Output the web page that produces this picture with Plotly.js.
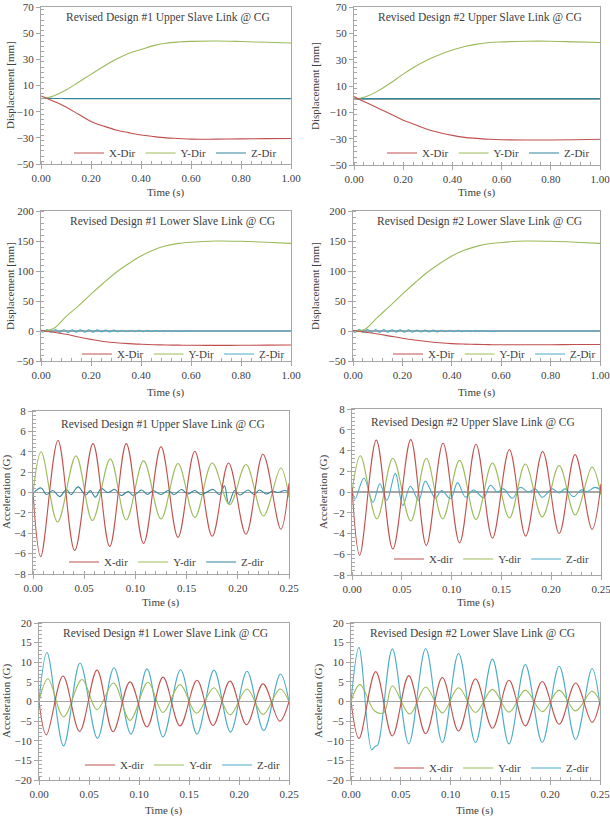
<!DOCTYPE html>
<html><head><meta charset="utf-8">
<script src="https://cdn.plot.ly/plotly-3.0.1.min.js"></script>
<style>html,body{margin:0;padding:0;background:#fff}</style>
</head><body><div id="chart" style="width:610px;height:816px"></div>
<script>
// ---------- DATA ----------
const tDisp = [0,0.02,0.05,0.1,0.15,0.2,0.25,0.3,0.35,0.4,0.45,0.5,0.55,0.6,0.7,0.8,0.9,1.0];
// Panel 1: Revised Design #1 Upper Slave Link (displacement, mm)
const X1 = [2,0.5,-2,-6.5,-12,-17.5,-21,-24,-26,-27.8,-29,-30,-30.5,-31,-31,-30.8,-30.6,-30.5];
const Y1 = [0,0.5,2,6.5,12.5,18.5,24.5,30,34.5,37.5,40.5,42.3,43.2,43.7,44,43.6,43,42.5];
const Z1 = [0,0.2,0.1,0,0,0,0,0,0,0,0,0,0,0,0,0,0,0];
// Panel 2: Revised Design #2 Upper Slave Link (displacement, mm)
const X2 = [2,0,-2.5,-7,-11.5,-16,-19.5,-23,-25.5,-27.5,-29,-29.8,-30.5,-30.8,-31,-31,-30.8,-30.5];
const Y2 = [0,0.5,2,6.5,12.5,19,25,30,34,37.3,40,41.8,43,43.5,44,44,43.5,43];
const Z2 = [0,0.4,0.4,0.4,0.4,0.4,0.4,0.4,0.4,0.4,0.4,0.4,0.4,0.4,0.4,0.4,0.4,0.4];
// Panel 3: Revised Design #1 Lower Slave Link (displacement, mm)
const X3 = [1,-0.5,-2,-5.5,-10,-14,-17.5,-19.5,-21,-22,-22.8,-23.3,-23.6,-23.8,-24,-23.8,-23.5,-23.3];
const Y3 = [0,0.5,4,24,42,61.5,80,97.5,112,125,135,142,146,148,150,149.5,148,146];
const tZlow = [0,0.008,0.025,0.041,0.058,0.075,0.091,0.108,0.125,0.141,0.158,0.175,0.191,0.208,0.225,0.241,0.258,0.275,0.291,0.308,0.325,0.341,0.358,0.375,0.391,0.408,0.425,0.441,0.458,0.475,0.491,0.508,0.525,0.541,0.6,0.7,0.8,0.9,1.0];
const Z3 = [0,-2,2.5,-2,2.5,-2.5,2,-2.5,2,-2,2,-2,1.8,-1.8,1.8,-1.5,1.5,-1.5,1.5,-1.2,1.2,-1.2,1.2,-1,1,-1,1,-0.8,0.8,-0.8,0.6,-0.6,0.5,-0.4,0,0,0,0,0];
// Panel 4: Revised Design #2 Lower Slave Link (displacement, mm)
const X4 = [1,-0.5,-2,-5,-8.5,-12,-15,-17.5,-19.5,-21,-21.8,-22.3,-22.7,-23,-23,-22.8,-22.6,-22.5];
const Y4 = [0,0.5,3.5,23,42,61.5,80,97.5,112,125,134.5,141,145.5,147.5,150,149.5,148,146];
const Z4 = [0,-2.5,3,-2.5,3,-2.5,2.5,-2.5,2.5,-2.2,2.2,-2,2,-2,1.8,-1.8,1.6,-1.6,1.5,-1.5,1.4,-1.4,1.3,-1.2,1.2,-1.1,1,-1,0.9,-0.9,0.8,-0.7,0.6,-0.5,0,0,0,0,0];
// Panel 5: Revised Design #1 Upper Slave Link (acceleration, G)
const tX5 = [0,0.0075,0.0244,0.0407,0.0586,0.0749,0.0911,0.108,0.125,0.1416,0.158,0.175,0.191,0.208,0.2246,0.242,0.25];
const X5 = [0,-6.3,5.1,-5.7,4.8,-5.3,4.8,-5.0,4.5,-4.4,4.05,-4.3,2.9,-4.1,3.75,-3.6,0.9];
const tY5 = [0,0.008,0.024,0.042,0.058,0.0755,0.091,0.108,0.125,0.1416,0.158,0.175,0.192,0.208,0.225,0.242,0.25];
const Y5 = [0,4.0,-2.9,3.6,-2.75,3.3,-2.7,3.1,-2.6,2.85,-2.45,2.9,-1.2,2.75,-2.3,2.4,-0.5];
const tZ5 = [0,0.008,0.013,0.0195,0.026,0.0326,0.037,0.044,0.0514,0.056,0.061,0.0667,0.073,0.08,0.086,0.093,0.098,0.106,0.112,0.117,0.125,0.132,0.138,0.145,0.151,0.158,0.164,0.176,0.182,0.187,0.191,0.197,0.202,0.21,0.216,0.221,0.228,0.234,0.239,0.246,0.25];
const Z5 = [-0.1,0.45,-0.2,0.2,-0.4,0.3,-0.2,0.55,-0.25,0.18,-0.45,0.4,0,0.3,-0.3,0.1,-0.3,0.25,-0.2,0.2,-0.2,0.2,-0.2,0.3,-0.15,0.2,-0.2,0.3,-0.2,0.65,-1.1,0.2,-0.25,0.25,-0.2,0.25,-0.15,0.15,0,0.2,0];
// Panel 6: Revised Design #2 Upper Slave Link (acceleration, G)
const tX6 = [0,0.0077,0.0244,0.041,0.059,0.0746,0.0914,0.108,0.1245,0.141,0.158,0.1744,0.1914,0.208,0.224,0.241,0.25];
const X6 = [0.4,-6.1,5.0,-5.5,5.05,-5.15,4.7,-4.9,4.6,-4.45,4.1,-4.25,3.9,-4.0,3.6,-3.6,0.8];
const tY6 = [0,0.0084,0.025,0.041,0.059,0.0746,0.091,0.108,0.1245,0.141,0.158,0.174,0.191,0.208,0.224,0.241,0.25];
const Y6 = [0,3.5,-2.6,3.25,-2.8,3.25,-2.6,3.05,-2.65,2.8,-2.5,2.7,-2.4,2.55,-2.2,2.4,-0.3];
const tZ6 = [0,0.003,0.012,0.021,0.028,0.035,0.0435,0.051,0.0586,0.067,0.0736,0.0837,0.09,0.099,0.106,0.114,0.122,0.132,0.139,0.146,0.152,0.161,0.169,0.177,0.184,0.191,0.201,0.208,0.214,0.2225,0.23,0.236,0.244,0.25];
const Z6 = [0.3,-0.7,1.35,-1.0,0.8,-0.8,1.8,-1.3,0.55,-0.8,1.05,-0.6,0.15,-0.65,0.9,-0.5,0.2,-0.55,0.65,0,0.3,-0.6,0.45,0,0.3,-0.5,0.3,-0.1,0.3,-0.45,0.2,0.05,0.45,0.2];
// Panel 7: Revised Design #1 Lower Slave Link (acceleration, G)
const tX7 = [0,0.0073,0.024,0.0406,0.058,0.074,0.091,0.108,0.124,0.141,0.158,0.174,0.191,0.2075,0.224,0.2407,0.25];
const X7 = [0,-8.5,6.5,-7.6,8.0,-7.7,5.0,-6.5,6.2,-6.2,5.4,-6.1,5.2,-5.9,4.5,-5.0,0];
const tY7 = [0,0.009,0.0246,0.043,0.058,0.0745,0.091,0.109,0.124,0.141,0.1576,0.175,0.191,0.208,0.224,0.241,0.25];
const Y7 = [0,5.8,-3.9,5.6,-2.1,4.7,-4.8,4.9,-2.8,4.3,-3.0,3.5,-3.4,3.2,-3.3,3.2,0];
const tZ7 = [0,0.008,0.0246,0.041,0.0585,0.075,0.092,0.108,0.124,0.1416,0.158,0.175,0.1915,0.208,0.2247,0.2414,0.25];
const Z7 = [0,12.5,-11.3,9.8,-9.4,8.6,-8.3,8.3,-9.0,8.1,-8.3,8.0,-7.8,7.7,-7.4,7.0,0];
// Panel 8: Revised Design #2 Lower Slave Link (acceleration, G)
const tX8 = [0,0.008,0.0248,0.0415,0.058,0.075,0.0917,0.108,0.125,0.142,0.1586,0.175,0.192,0.209,0.2255,0.242,0.25];
const X8 = [0,-9.4,7.6,-8.8,6.6,-8.2,6.1,-7.5,5.8,-6.8,5.4,-6.2,5.1,-5.8,4.7,-5.3,0];
const tY8 = [0,0.009,0.024,0.033,0.0415,0.059,0.075,0.0917,0.108,0.125,0.142,0.1586,0.175,0.192,0.209,0.2255,0.242,0.25];
const Y8 = [0,4.3,-2.5,-2.8,4.0,-3.2,3.7,-2.9,3.5,-2.8,3.1,-2.7,2.9,-2.6,2.9,-2.4,2.6,0];
const tZ8 = [0,0.008,0.0207,0.024,0.027,0.0415,0.058,0.075,0.0917,0.108,0.125,0.142,0.1586,0.175,0.192,0.209,0.2255,0.242,0.25];
const Z8 = [0,13.8,-12.3,-11.5,-11.0,13.4,-10.8,13.5,-10.5,12.3,-10.5,10.8,-10.8,9.4,-10.4,9.0,-9.7,8.4,-1];

const titles = [
  'Revised Design #1 Upper Slave Link @ CG','Revised Design #2 Upper Slave Link @ CG',
  'Revised Design #1 Lower Slave Link @ CG','Revised Design #2 Lower Slave Link @ CG',
  'Revised Design #1 Upper Slave Link @ CG','Revised Design #2 Upper Slave Link @ CG',
  'Revised Design #1 Lower Slave Link @ CG','Revised Design #2 Lower Slave Link @ CG'];
const dispNames = ['X-Dir','Y-Dir','Z-Dir'];
const accNames = ['X-dir','Y-dir','Z-dir'];
const dispYTitle = 'Displacement [mm]';
const accYTitle = 'Acceleration (G)';
const xTitle = 'Time (s)';

// ---------- STYLE / LAYOUT ----------
const W = 610, H = 816;
const FONT = '"Liberation Serif", "Times New Roman", serif';
const TXT = '#404040';
const RED = '#c0504d', GREEN = '#9bbb59', BLUE = '#4bacc6', DBLUE = '#31859c';

// pixel boxes [left, right, top, bottom]
const boxes = [
  [41,291,7,164],[354,600,7,165],
  [41,291,211,361],[353,600,211,361],
  [33,289,411,574],[352,601,409,575],
  [39,289,623,780],[351,600,623,780]];
const yr = [[-50,70,20,-50,4],[-50,70,20,-50,4],[-50,200,50,-50,10],[-50,200,50,-50,10],
            [-8,8,2,-8,0.4],[-8,8,2,-8,0.4],[-20,20,5,-20,1],[-20,20,5,-20,1]];
const titlePos = [[168,17],[480,17],[172,222],[479,222],[163,424],[473,422],[165,633],[472,633]];
const yTitlePos = [[10,85],[315,86],[10,286],[315,286],[6,492],[323,492],[6,701],[318,701]];
const xTitlePos = [[166,192],[477,192],[166,392],[477,392],[161,602],[476,602],[164,810],[475,810]];
const legPos = [[282,153],[595,153],[290,354],[601,354],[270,562],[595,559],[286,765],[595,768]];
const zColors = [DBLUE,DBLUE,BLUE,BLUE,DBLUE,BLUE,BLUE,BLUE];

const series = [
  [[tDisp,X1],[tDisp,Y1],[tDisp,Z1]],
  [[tDisp,X2],[tDisp,Y2],[tDisp,Z2]],
  [[tDisp,X3],[tDisp,Y3],[tZlow,Z3]],
  [[tDisp,X4],[tDisp,Y4],[tZlow,Z4]],
  [[tX5,X5],[tY5,Y5],[tZ5,Z5]],
  [[tX6,X6],[tY6,Y6],[tZ6,Z6]],
  [[tX7,X7],[tY7,Y7],[tZ7,Z7]],
  [[tX8,X8],[tY8,Y8],[tZ8,Z8]]];

const traces = [];
const layout = {
  width: W, height: H, margin: {l:0,r:0,t:0,b:0},
  paper_bgcolor: '#fff', plot_bgcolor: '#fff',
  font: {family: FONT, size: 11, color: TXT},
  showlegend: true, annotations: []
};

for (let i = 0; i < 8; i++) {
  const n = i + 1;
  const xa = n === 1 ? 'x' : 'x' + n, ya = n === 1 ? 'y' : 'y' + n;
  const xk = n === 1 ? 'xaxis' : 'xaxis' + n, yk = n === 1 ? 'yaxis' : 'yaxis' + n;
  const lk = n === 1 ? 'legend' : 'legend' + n;
  const isDisp = i < 4;
  const names = isDisp ? dispNames : accNames;
  const colors = [RED, GREEN, zColors[i]];
  const order = [2,1,0]; // draw Z first so X/Y lie on top
  const tmp = [];
  for (let k = 0; k < 3; k++) {
    tmp.push({
      type: 'scatter', mode: 'lines', x: series[i][k][0], y: series[i][k][1],
      name: names[k], xaxis: xa, yaxis: ya, legend: lk, legendrank: k + 1,
      line: {color: colors[k], width: 1.1, shape: 'spline', smoothing: 1},
      hoverinfo: 'skip'
    });
  }
  order.forEach(k => traces.push(tmp[k]));

  const b = boxes[i];
  const xmax = isDisp ? 1 : 0.25, xd = isDisp ? 0.2 : 0.05;
  layout[xk] = {
    domain: [b[0]/W, b[1]/W], anchor: ya, range: [0, xmax], dtick: xd, tick0: 0,
    tickformat: '.2f', ticks: 'outside', ticklen: 4, tickcolor: '#a6a6a6',
    ticklabeloverflow: 'allow',
    showline: true, linecolor: '#a6a6a6', linewidth: 1, mirror: true,
    showgrid: false, zeroline: false, fixedrange: true,
    tickfont: {family: FONT, size: 11, color: TXT},
    minor: {ticks: 'inside', ticklen: 3, dtick: xd/5, tickcolor: '#a6a6a6', showgrid: false}
  };
  const r = yr[i];
  layout[yk] = {
    domain: [1 - b[3]/H, 1 - b[2]/H], anchor: xa, range: [r[0], r[1]], dtick: r[2], tick0: r[3],
    ticks: 'outside', ticklen: 4, tickcolor: '#a6a6a6',
    ticklabeloverflow: 'allow',
    showline: true, linecolor: '#a6a6a6', linewidth: 1, mirror: true,
    showgrid: false, zeroline: true, zerolinecolor: '#a6a6a6', zerolinewidth: 1.5, fixedrange: true,
    tickfont: {family: FONT, size: 11, color: TXT},
    minor: {ticks: 'inside', ticklen: 3, dtick: r[4], tickcolor: '#a6a6a6', showgrid: false}
  };
  layout[lk] = {
    orientation: 'h', x: legPos[i][0]/W, y: 1 - legPos[i][1]/H, xanchor: 'right', yanchor: 'middle',
    bgcolor: 'rgba(0,0,0,0)', font: {family: FONT, size: 11, color: TXT},
    itemwidth: 30, traceorder: 'normal'
  };
  layout.annotations.push({
    text: titles[i], xref: 'paper', yref: 'paper', x: titlePos[i][0]/W, y: 1 - titlePos[i][1]/H,
    xanchor: 'center', yanchor: 'middle', showarrow: false, font: {family: FONT, size: 11.5, color: TXT}
  });
  layout.annotations.push({
    text: isDisp ? dispYTitle : accYTitle, xref: 'paper', yref: 'paper', textangle: -90,
    x: yTitlePos[i][0]/W, y: 1 - yTitlePos[i][1]/H,
    xanchor: 'center', yanchor: 'middle', showarrow: false, font: {family: FONT, size: 11, color: TXT}
  });
  layout.annotations.push({
    text: xTitle, xref: 'paper', yref: 'paper', x: xTitlePos[i][0]/W, y: 1 - xTitlePos[i][1]/H,
    xanchor: 'center', yanchor: 'middle', showarrow: false, font: {family: FONT, size: 11, color: TXT}
  });
}

Plotly.newPlot('chart', traces, layout, {displayModeBar: false, staticPlot: true});
</script></body></html>
